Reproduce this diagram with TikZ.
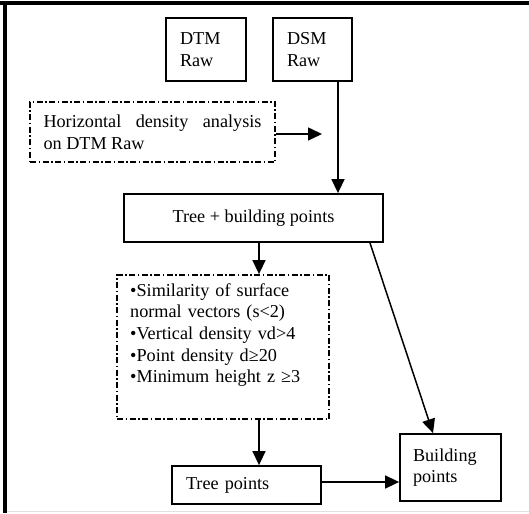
\documentclass[tikz,border=0pt]{standalone}
\usepackage{fontspec}
\setmainfont{Liberation Serif}
\usetikzlibrary{arrows.meta,calc}
\begin{document}
\begin{tikzpicture}[x=1pt,y=-1pt,
  every node/.style={font=\fontsize{18.2}{21.7}\selectfont},
  solidbox/.style={draw,line width=1.8pt,inner sep=0pt},
  dashbox/.style={draw,line width=1.8pt,inner sep=0pt,dash pattern=on 6pt off 2.5pt on 1.5pt off 2.5pt},
  arr/.style={line width=1.5pt,-{Triangle[length=14pt,width=13pt]}}]
\useasboundingbox (0,0) rectangle (529,513);
\fill[white] (0,0) rectangle (529,513);
% frame
\draw[line width=4pt] (0,3) -- (529,3);
\draw[line width=4pt] (5,1) -- (5,513);
\draw[line width=1pt,black!12] (7,511.5) -- (529,511.5);
% nodes
\node[solidbox,minimum width=80pt,minimum height=63pt,text width=52pt,align=left] (dtm) at (206,49.5) {DTM\\Raw};
\node[solidbox,minimum width=79pt,minimum height=63pt,text width=51pt,align=left] (dsm) at (312.5,49.5) {DSM\\Raw};
\node[dashbox,minimum width=245pt,minimum height=60pt,text width=218pt,align=justify] (hda) at (152.5,132) {Horizontal density analysis\linebreak on DTM Raw};
\coordinate (hdaend) at (322,134);
\node[solidbox,minimum width=259pt,minimum height=48pt] (tb) at (253.5,218) {Tree + building points};
\node[dashbox,minimum width=212pt,minimum height=144pt] (crit) at (223,347) {};
\node[anchor=north west,inner sep=0pt,text width=200pt,align=left] (crittext) at (130,283) {•Similarity of surface\\normal vectors (s<2)\\•Vertical density vd>4\\•Point density d≥20\\•Minimum height z ≥3};
\node[solidbox,minimum width=149pt,minimum height=38pt,text width=121pt,align=left] (tree) at (246.5,485) {Tree points};
\node[solidbox,minimum width=101pt,minimum height=67pt,text width=75pt,align=left] (bld) at (450.5,467.5) {Building\\points};
\coordinate (ax) at (259,0);
\coordinate (bx) at (370,0);
% connectors
\draw[arr] (dsm.south -| 338,0) -- (tb.north -| 338,0);
\draw[arr] (hda.east |- hdaend) -- (hdaend);
\draw[arr] (tb.south -| ax) -- (crit.north -| ax);
\draw[arr] (crit.south -| ax) -- (tree.north -| ax);
\draw[arr] (tb.south -| bx) -- (bld.north -| 433,0);
\draw[arr] (tree.east |- 0,482) -- (bld.west |- 0,482);
\end{tikzpicture}
\end{document}
